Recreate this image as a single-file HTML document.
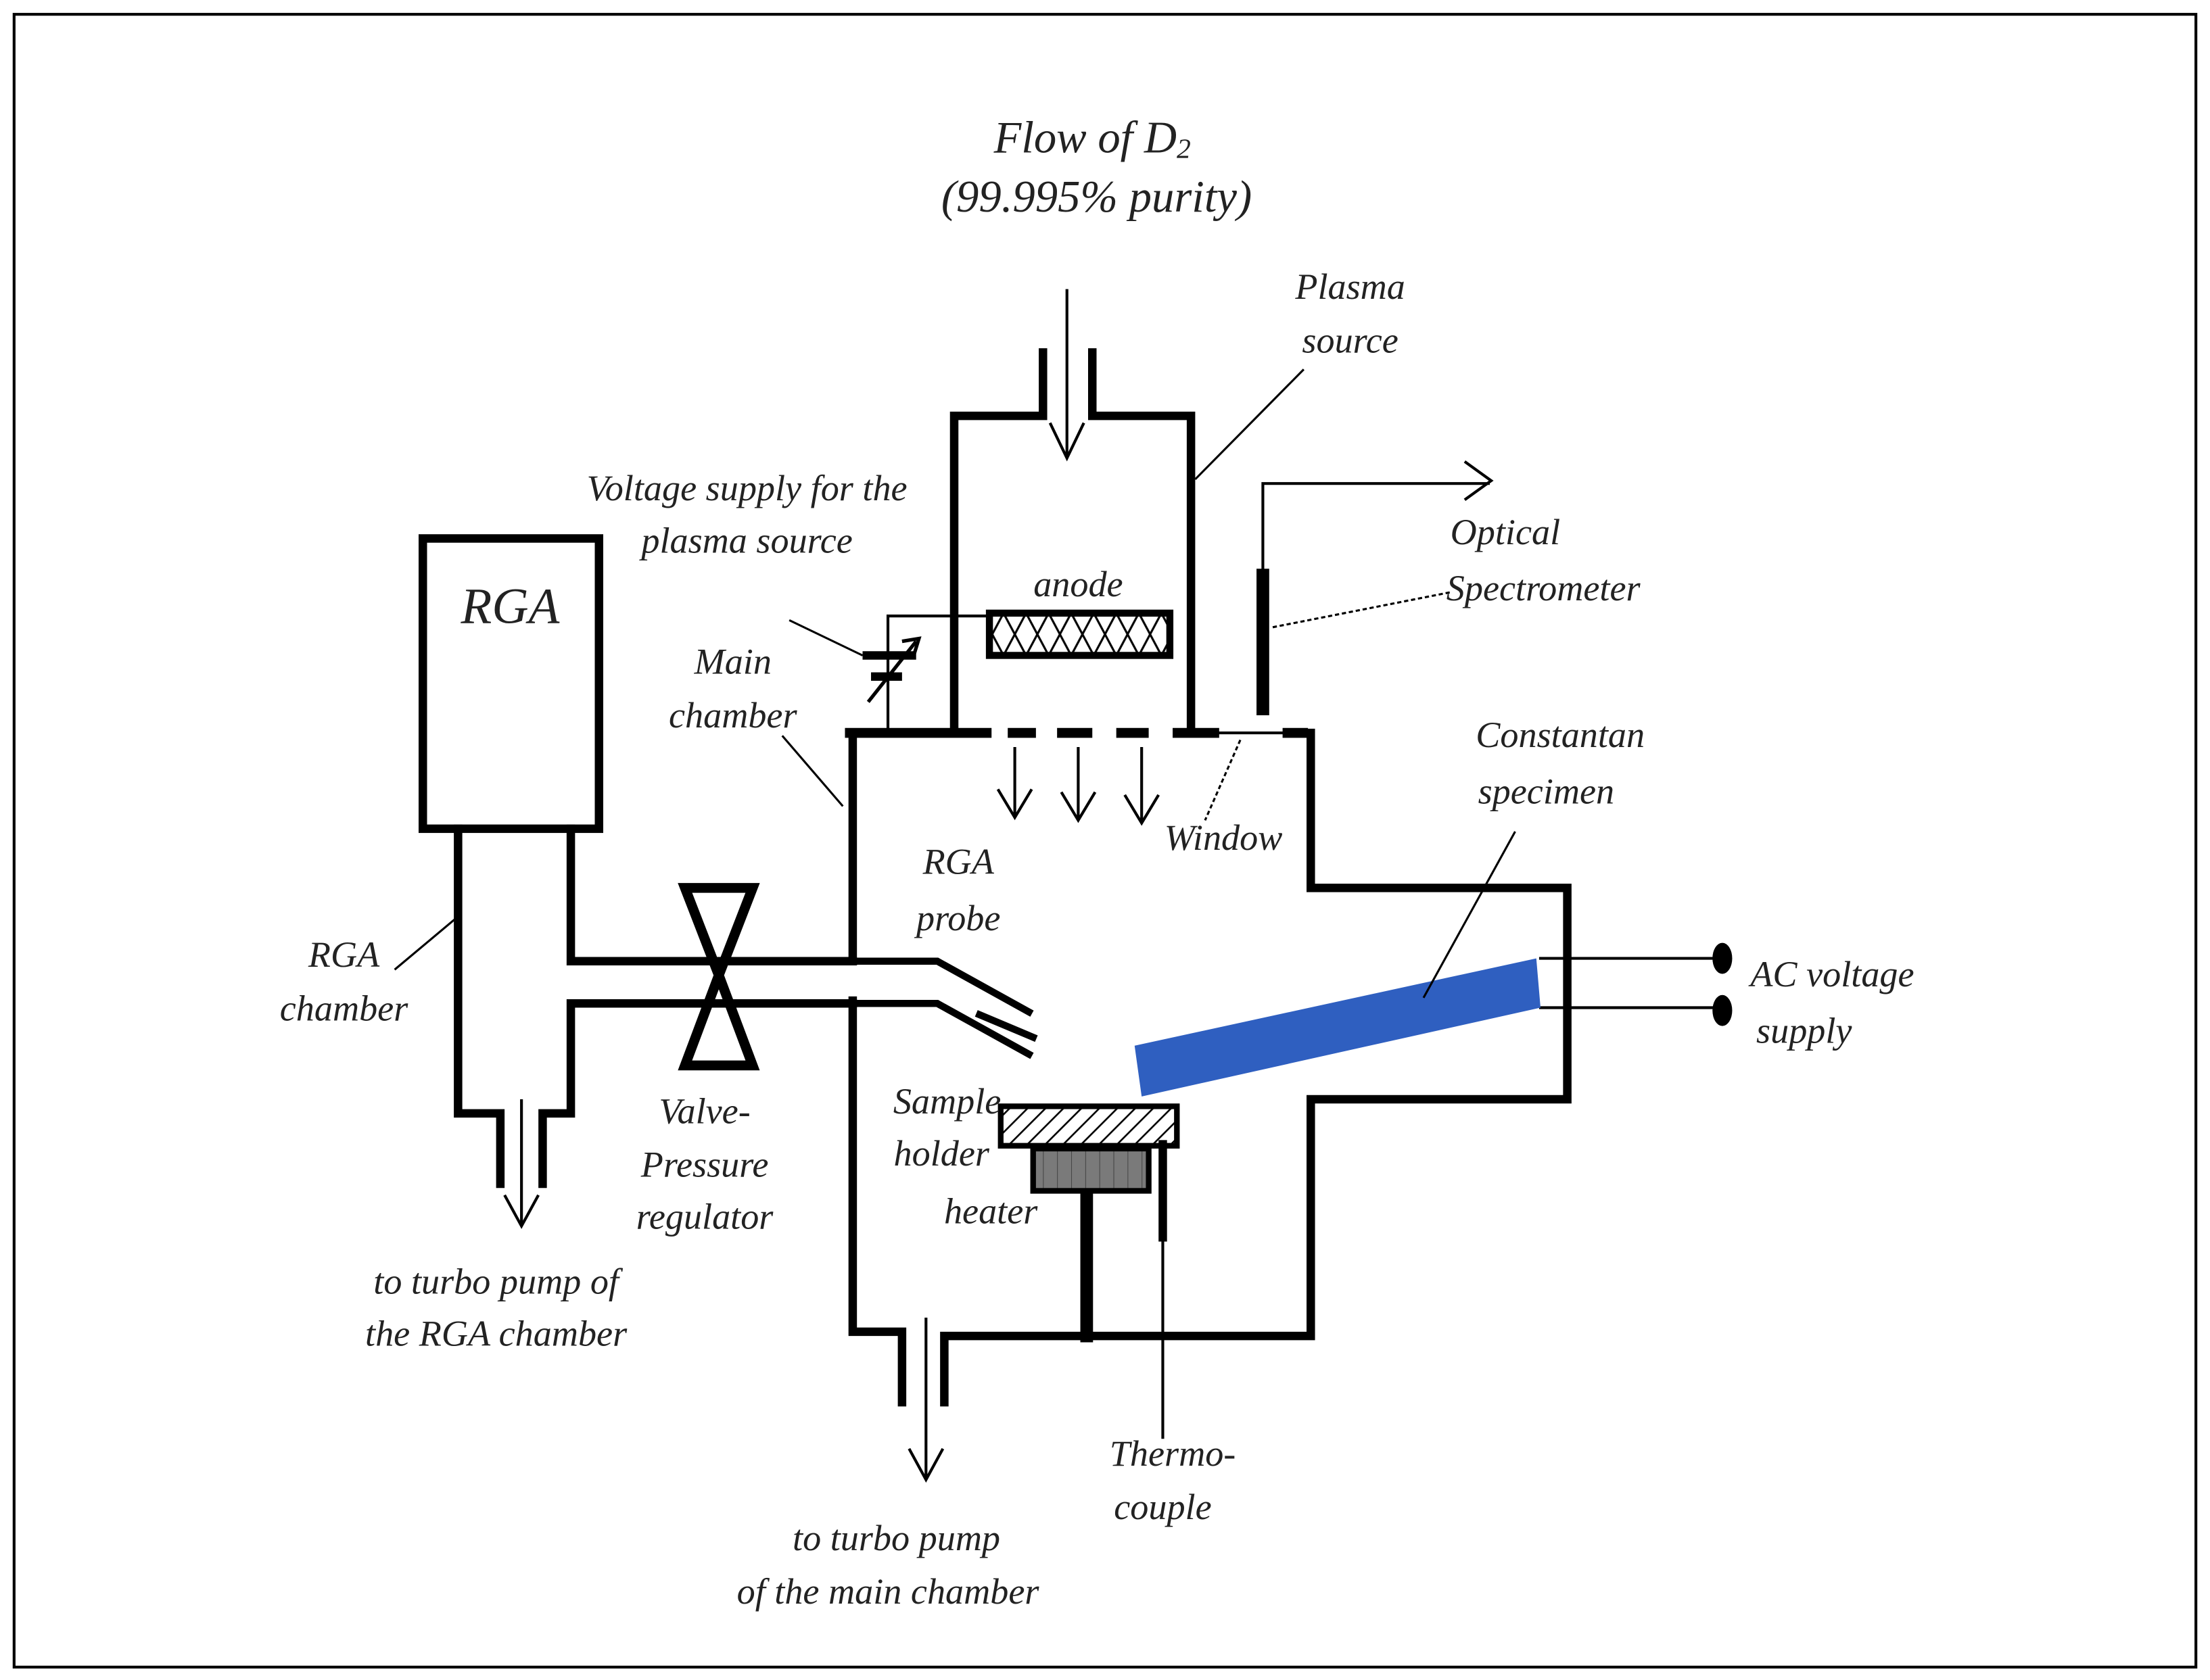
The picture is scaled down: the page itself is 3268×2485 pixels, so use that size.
<!DOCTYPE html>
<html><head><meta charset="utf-8"><style>
html,body{margin:0;padding:0;background:#fff;}
svg{display:block;}
text{font-family:"Liberation Serif",serif;font-style:italic;fill:#222;}
</style></head><body>
<svg width="3268" height="2485" viewBox="0 0 1568 1192" xmlns="http://www.w3.org/2000/svg">
<defs>
<pattern id="xh" width="16" height="30" patternUnits="userSpaceOnUse">
<path d="M0 0 L16 30 M16 0 L0 30" stroke="#000" stroke-width="1.5"/>
</pattern>
<pattern id="dh" width="9" height="9" patternUnits="userSpaceOnUse" patternTransform="rotate(45)">
<line x1="0" y1="0" x2="0" y2="9" stroke="#000" stroke-width="2.5"/>
</pattern>
<pattern id="vs" width="10" height="30" patternUnits="userSpaceOnUse">
<rect width="10" height="30" fill="#7a7a7a"/><line x1="0" y1="0" x2="0" y2="30" stroke="#444" stroke-width="1"/>
</pattern>
</defs>
<rect x="0" y="0" width="1568" height="1192" fill="#fff"/>
<rect x="10" y="10" width="1548" height="1173" fill="none" stroke="#000" stroke-width="2"/>

<g font-size="32" text-anchor="middle">
<text x="775" y="108">Flow of D<tspan font-size="20" dy="4">2</tspan></text>
<text x="778" y="150">(99.995% purity)</text>
</g>

<g stroke="#000" fill="none" stroke-linecap="square">
<!-- plasma source -->
<path d="M740 250 V295 H677 V520 M775 250 V295 H845 V520" stroke-width="6"/>
<!-- main chamber -->
<path d="M603 520 H700" stroke-width="7"/>
<path d="M715 520 H735 M750 520 H775 M792 520 H815 M832 520 H865 M910 520 H928" stroke-width="7" stroke-linecap="butt"/>
<path d="M865 520 H910" stroke-width="2"/>
<path d="M930 520 V630 H1112 V780 H930 V948 H670 V995 M605 520 V682 M605 710 V945 H640 V995" stroke-width="6"/>
<!-- RGA -->
<rect x="300" y="382" width="125" height="206" stroke-width="6"/>
<path d="M325 588 V790 H355 V840 M405 588 V682 H605 M405 790 V712 H605 M405 790 H385 V840" stroke-width="6"/>
<!-- probe -->
<path d="M605 682 H665 L730 718 M605 712 H665 L730 748 M695 720 L733 736" stroke-width="5"/>
<!-- valve -->
<path d="M486 630 H534 L510 692 Z M510 692 L486 756 H534 Z" stroke-width="7" stroke-linejoin="miter"/>
<!-- sample holder -->
<path d="M771 845 V948" stroke-width="9"/>
<path d="M825 812 V878" stroke-width="6"/>
<path d="M825 878 V1020" stroke-width="2"/>
<!-- fiber -->
<path d="M896 408 V503" stroke-width="9"/>
<path d="M896 408 V343 H1056" stroke-width="2"/>
<path d="M1040 328 L1058 341 L1040 354" stroke-width="2"/>
<!-- wires anode -->
<path d="M702 437 H630 V520" stroke-width="2"/>
<!-- AC wires -->
<path d="M1093 680 H1220 M1093 715 H1220" stroke-width="2"/>
</g>
<!-- anode -->
<rect x="702" y="435" width="128" height="30" fill="url(#xh)" stroke="#000" stroke-width="5"/>
<!-- capacitor -->
<g stroke="#000">
<line x1="612" y1="465" x2="650" y2="465" stroke-width="6"/>
<line x1="618" y1="480" x2="640" y2="480" stroke-width="6"/>
<line x1="616" y1="498" x2="650" y2="455" stroke-width="2.5"/>
<path d="M640 455 L652 453 L648 466" fill="none" stroke-width="2.5"/>
<line x1="560" y1="440" x2="612" y2="465" stroke-width="1.5"/>
</g>
<!-- arrows -->
<g stroke="#000" stroke-width="2" fill="none">
<path d="M757 205 V325 M745 300 L757 325 L769 300"/>
<path d="M720 530 V580 M708 560 L720 580 L732 560"/>
<path d="M765 530 V582 M753 562 L765 582 L777 562"/>
<path d="M810 530 V584 M798 564 L810 584 L822 564"/>
<path d="M370 780 V870 M358 848 L370 870 L382 848"/>
<path d="M657 935 V1050 M645 1028 L657 1050 L669 1028"/>
</g>
<!-- specimen -->
<polygon points="805,742 1090,680 1093,715 810,778" fill="#2f5fc0"/>
<ellipse cx="1222" cy="680" rx="7" ry="11" fill="#000"/>
<ellipse cx="1222" cy="717" rx="7" ry="11" fill="#000"/>
<!-- holder -->
<rect x="710" y="785" width="125" height="28" fill="url(#dh)" stroke="#000" stroke-width="4"/>
<rect x="733" y="815" width="82" height="30" fill="url(#vs)" stroke="#000" stroke-width="4"/>
<!-- leader lines -->
<g stroke="#000" stroke-width="1.5" fill="none">
<path d="M848 340 L925 262"/>
<path d="M903 445 L1030 420" stroke-dasharray="3 2"/>
<path d="M880 525 L855 582" stroke-dasharray="3 2"/>
<path d="M598 572 L555 522"/>
<path d="M280 688 L323 652"/>
<path d="M1010 708 L1075 590"/>
</g>
<!-- labels -->
<g font-size="26" text-anchor="middle">
<text x="958" y="212">Plasma</text>
<text x="958" y="250">source</text>
<text x="530" y="355">Voltage supply for the</text>
<text x="530" y="392">plasma source</text>
<text x="765" y="423">anode</text>
<text x="362" y="442" font-size="36">RGA</text>
<text x="520" y="478">Main</text>
<text x="520" y="516">chamber</text>
<text x="1068" y="386">Optical</text>
<text x="1095" y="426">Spectrometer</text>
<text x="1107" y="530">Constantan</text>
<text x="1097" y="570">specimen</text>
<text x="868" y="603">Window</text>
<text x="680" y="620">RGA</text>
<text x="680" y="660">probe</text>
<text x="244" y="686">RGA</text>
<text x="244" y="724">chamber</text>
<text x="1300" y="700">AC voltage</text>
<text x="1280" y="740">supply</text>
<text x="672" y="790">Sample</text>
<text x="668" y="827">holder</text>
<text x="703" y="868">heater</text>
<text x="500" y="797">Valve-</text>
<text x="500" y="835">Pressure</text>
<text x="500" y="872">regulator</text>
<text x="352" y="918">to turbo pump of</text>
<text x="352" y="955">the RGA chamber</text>
<text x="832" y="1040">Thermo-</text>
<text x="825" y="1078">couple</text>
<text x="636" y="1100">to turbo pump</text>
<text x="630" y="1138">of the main chamber</text>
</g>
</svg>
</body></html>
